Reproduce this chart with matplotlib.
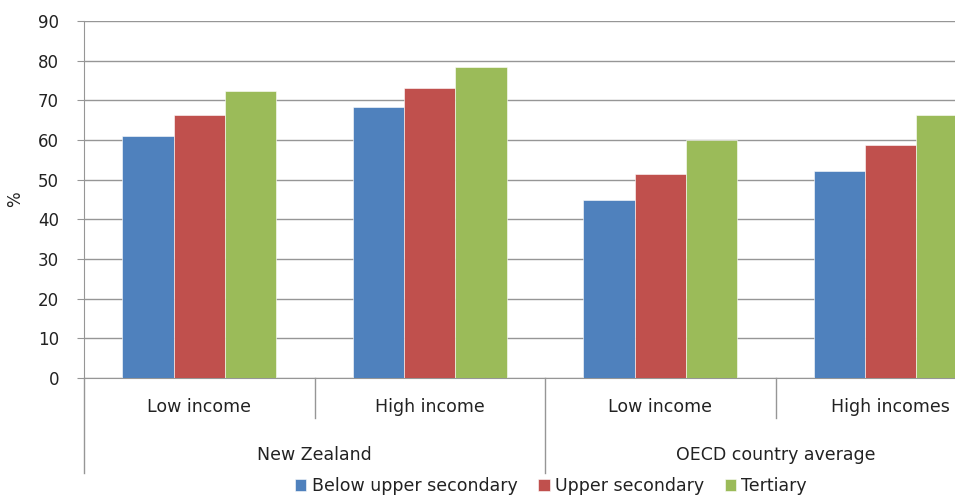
import matplotlib.pyplot as plt
import numpy as np

# data
subgroups = ["Low income", "High income", "Low income", "High incomes"]
groups = ["New Zealand", "OECD country average"]
series = ["Below upper secondary", "Upper secondary", "Tertiary"]
below_upper = [61.1, 68.2, 44.9, 52.2]
upper_sec = [66.3, 73.0, 51.5, 58.7]
tertiary = [72.3, 78.3, 59.9, 66.3]
colors = ["#4F81BD", "#C0504D", "#9BBB59"]

plt.rcParams["font.family"] = ["DejaVu Sans"]
fs = 12.5

fig = plt.figure(figsize=(9.55, 4.95), dpi=100)
ax = fig.add_axes([84 / 955, 1 - 378 / 495, 922 / 955, 357 / 495])

x = np.arange(len(subgroups))
w = 0.222
for i, vals in enumerate([below_upper, upper_sec, tertiary]):
    ax.bar(x + (i - 1) * w, vals, w, color=colors[i], label=series[i],
           edgecolor="white", linewidth=0.4, zorder=3)

ax.set_xlim(-0.5, 3.5)
ax.set_ylim(0, 90)
ax.set_yticks(range(0, 91, 10))
ax.grid(axis="y", color="#969696", linewidth=1, zorder=0)
for s in ["top", "right"]:
    ax.spines[s].set_visible(False)
ax.spines["left"].set_color("#969696")
ax.spines["bottom"].set_color("#969696")
ax.tick_params(axis="y", colors="#969696", labelcolor="#222222", labelsize=12, length=5, pad=13)
ax.set_xticks([])
ax.set_ylabel("%", fontsize=12, labelpad=10, color="#222222")

trans = ax.get_xaxis_transform()
# category separators below the axis
for xs in [0.5, 2.5]:
    ax.plot([xs, xs], [0, -0.112], transform=trans, color="#969696", lw=1, clip_on=False)
for xs in [-0.5, 1.5]:
    ax.plot([xs, xs], [0, -0.266], transform=trans, color="#969696", lw=1, clip_on=False)

for xi, lab in zip(x, subgroups):
    ax.text(xi, -0.081, lab, transform=trans, ha="center", va="center", fontsize=fs, color="#222222")
for gi, g in enumerate(groups):
    ax.text(gi * 2 + 0.5, -0.216, g, transform=trans, ha="center", va="center", fontsize=fs, color="#222222")

fig.legend(loc="center", bbox_to_anchor=(551 / 955, 1 - 486 / 495), ncol=3, frameon=False,
           fontsize=fs, handlelength=0.65, handleheight=0.65, handletextpad=0.3,
           columnspacing=1.2, borderpad=0, labelcolor="#222222")

fig.savefig("out.png", dpi=100)
